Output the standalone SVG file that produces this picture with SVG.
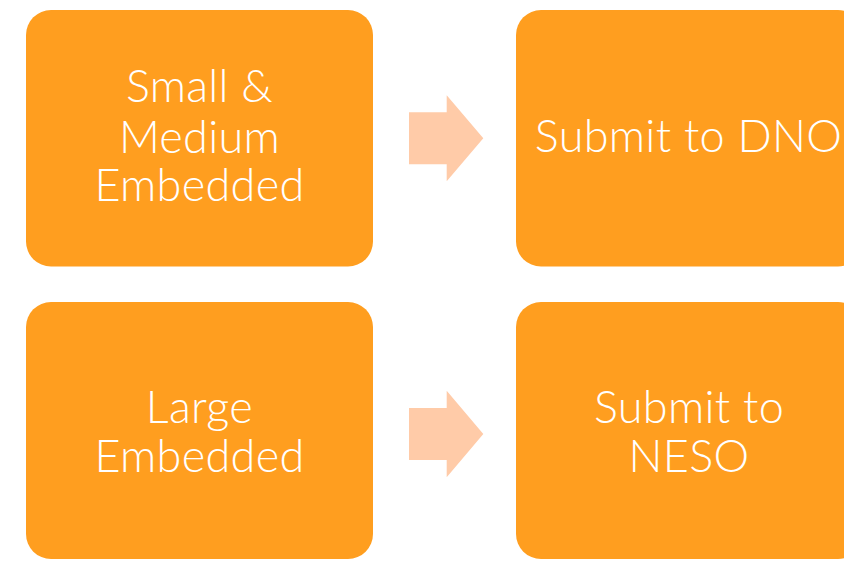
<svg xmlns="http://www.w3.org/2000/svg" width="844" height="561" viewBox="0 0 844 561">
<style>
.box{fill:#FF9E1F}
.arrow{fill:#FFCBA8}
.t{fill:#FFFFFF;font-family:Lato,"Liberation Sans",Arial,sans-serif;font-weight:300;font-size:45px;text-anchor:middle;letter-spacing:0.3px}
</style>
<rect width="844" height="561" fill="#FFFFFF"/>
<g id="connectors">
<polygon class="arrow" points="409,112.3 446.7,112.3 446.7,95.3 483.3,138.3 446.7,181.3 446.7,164.3 409,164.3"/>
<polygon class="arrow" points="409,408 446.7,408 446.7,390.7 483.3,434 446.7,477.3 446.7,460 409,460"/>
</g>
<g id="node-small-medium">
<rect class="box" x="26" y="10" width="347" height="256.5" rx="25"/>
<text class="t" x="199.5" y="102.3">Small &amp;</text>
<text class="t" x="199.5" y="152.5">Medium</text>
<text class="t" x="199.5" y="201">Embedded</text>
</g>
<g id="node-dno">
<rect class="box" x="516" y="10" width="347" height="256.5" rx="25"/>
<text class="t" x="688.5" y="151.7">Submit to DNO</text>
</g>
<g id="node-large">
<rect class="box" x="26" y="302" width="347" height="257" rx="25"/>
<text class="t" x="199.5" y="423.3">Large</text>
<text class="t" x="199.5" y="471.7">Embedded</text>
</g>
<g id="node-neso">
<rect class="box" x="516" y="302" width="347" height="257" rx="25"/>
<text class="t" x="689" y="422.7">Submit to</text>
<text class="t" x="689" y="471.7">NESO</text>
</g>
</svg>
